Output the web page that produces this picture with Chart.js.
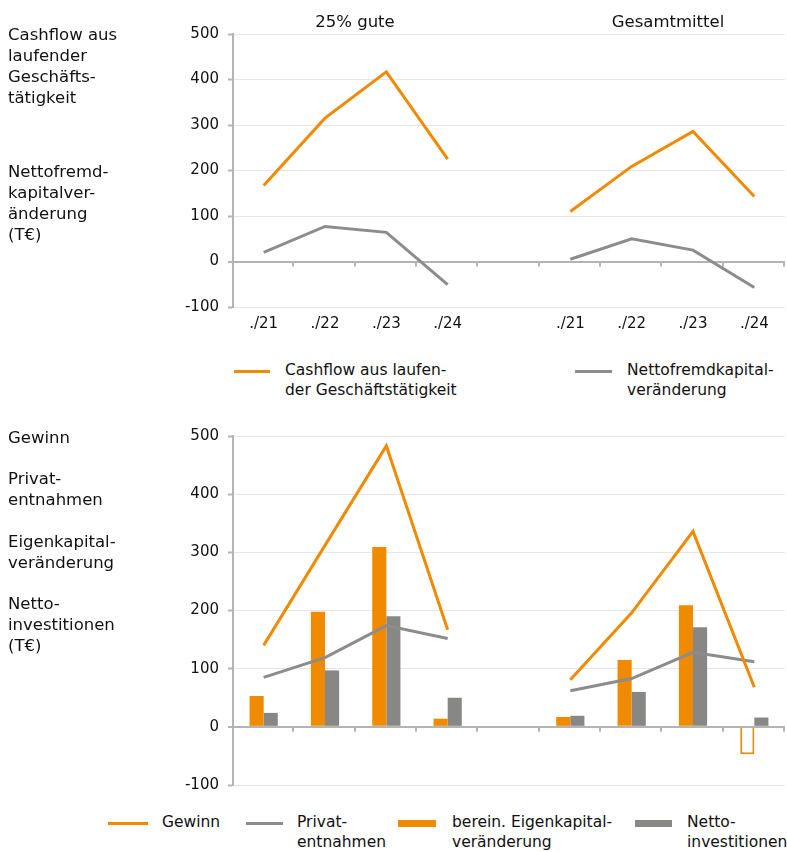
<!DOCTYPE html>
<html lang="de">
<head>
<meta charset="utf-8">
<title>Cashflow, Gewinn und Investitionen</title>
<script src="https://cdn.jsdelivr.net/npm/chart.js@4.4.1/dist/chart.umd.min.js"></script>
<style>
  body { margin: 0; background: #fff; font-family: "DejaVu Sans", Verdana, sans-serif; color: #111; }
  #page { position: relative; width: 787px; height: 852px; overflow: hidden; }
  canvas { position: absolute; left: 0; }
  .side { position: absolute; left: 8px; font-size: 16.5px; line-height: 21px; white-space: nowrap; }
  .panel-title { position: absolute; top: 11px; font-size: 16.5px; line-height: 21px; transform: translateX(-50%); white-space: nowrap; }
  .key { position: absolute; font-size: 15.5px; line-height: 19.5px; }
  .key .swatch { position: absolute; left: 0; }
  .key .line { top: 8.5px; height: 3px; }
  .key .box { top: 6.5px; height: 7px; }
  .key .txt { position: absolute; top: 0; white-space: nowrap; }
</style>
</head>
<body>
<div id="page">
  <canvas id="chartCashflow" width="787" height="341" style="top:0; width:787px; height:341px;"></canvas>
  <canvas id="chartGewinn" width="787" height="403" style="top:400px; width:787px; height:403px;"></canvas>

  <div class="panel-title" style="left:355px;">25% gute</div>
  <div class="panel-title" style="left:668px;">Gesamtmittel</div>

  <div class="side" style="top:24px;">Cashflow aus<br>laufender<br>Geschäfts-<br>tätigkeit</div>
  <div class="side" style="top:161px;">Nettofremd-<br>kapitalver-<br>änderung<br>(T€)</div>

  <div class="side" style="top:427px;">Gewinn</div>
  <div class="side" style="top:468px;">Privat-<br>entnahmen</div>
  <div class="side" style="top:531px;">Eigenkapital-<br>veränderung</div>
  <div class="side" style="top:593px;">Netto-<br>investitionen<br>(T€)</div>

  <div class="key" style="left:234px; top:361px;">
    <span class="swatch line" style="width:36px; background:#f08a00;"></span>
    <span class="txt" style="left:51px;">Cashflow aus laufen-<br>der Geschäftstätigkeit</span>
  </div>
  <div class="key" style="left:575px; top:361px;">
    <span class="swatch line" style="width:37px; background:#8c8c8c;"></span>
    <span class="txt" style="left:52px;">Nettofremdkapital-<br>veränderung</span>
  </div>

  <div class="key" style="left:108px; top:813px;">
    <span class="swatch line" style="width:40px; background:#f08a00;"></span>
    <span class="txt" style="left:54px;">Gewinn</span>
  </div>
  <div class="key" style="left:246px; top:813px;">
    <span class="swatch line" style="width:37px; background:#8c8c8c;"></span>
    <span class="txt" style="left:51px;">Privat-<br>entnahmen</span>
  </div>
  <div class="key" style="left:398px; top:813px;">
    <span class="swatch box" style="width:38px; background:#f08a00;"></span>
    <span class="txt" style="left:54px;">berein. Eigenkapital-<br>veränderung</span>
  </div>
  <div class="key" style="left:635px; top:813px;">
    <span class="swatch box" style="width:37px; background:#878785;"></span>
    <span class="txt" style="left:52px;">Netto-<br>investitionen</span>
  </div>
</div>

<script>
// categories: two groups of years, separated by an empty slot
const yearLabels = ["./21", "./22", "./23", "./24"];

// top panel (T€)
const cashflowGute = [167, 315, 417, 225];
const cashflowGesamt = [110, 209, 286, 143];
const fremdkapitalGute = [20, 77, 64, -51];
const fremdkapitalGesamt = [5, 50, 25, -57];

// bottom panel (T€)
const gewinnGute = [140, 312, 483, 167];
const gewinnGesamt = [81, 196, 336, 68];
const privatGute = [85, 119, 174, 152];
const privatGesamt = [62, 83, 128, 112];
const eigenkapitalGute = [53, 198, 309, 14];
const eigenkapitalGesamt = [17, 115, 209, -47];
const nettoinvestGute = [24, 97, 190, 50];
const nettoinvestGesamt = [19, 60, 171, 16];

const yMin = -100;
const yMax = 500;
const yStep = 100;

const ORANGE = "#f08a00";
const GRAY_LINE = "#8c8c8c";
const GRAY_BAR = "#878785";
const GRID = "#e6e6e6";
const AXIS = "#b4b4b4";
const TEXT = "#111111";
const FONT = "'DejaVu Sans', Verdana, sans-serif";

const joinGroups = (a, b) => [...a, null, ...b];
const xLabels = [...yearLabels, "", ...yearLabels];

// little tick marks hanging below the zero line, one per category boundary
const zeroLineTicks = {
  id: "zeroLineTicks",
  beforeDatasetsDraw (chart) {
    const { ctx, chartArea, scales } = chart;
    const y0 = scales.y.getPixelForValue(0);
    const n = chart.data.labels.length;
    const step = (chartArea.right - chartArea.left) / n;
    ctx.save();
    ctx.strokeStyle = AXIS;
    ctx.lineWidth = 2;
    for (let i = 1; i <= n; i++) {
      const x = Math.round(chartArea.left + i * step) - 1;
      ctx.beginPath();
      ctx.moveTo(x, y0);
      ctx.lineTo(x, y0 + 5);
      ctx.stroke();
    }
    ctx.restore();
  }
};

function lineSet (label, data, color) {
  return {
    type: "line",
    label,
    data,
    borderColor: color,
    backgroundColor: color,
    borderWidth: 3,
    pointRadius: 0,
    tension: 0,
    spanGaps: false,
    order: 0
  };
}

function makeOptions (xHeight, showLabels, padTop) {
  return {
    responsive: false,
    animation: false,
    layout: { padding: { left: 0, right: 2, top: padTop, bottom: 0 } },
    plugins: { legend: { display: false }, tooltip: { enabled: false } },
    scales: {
      x: {
        offset: true,
        grid: { display: false, drawTicks: false },
        border: { display: false },
        ticks: {
          display: showLabels,
          color: TEXT,
          font: { family: FONT, size: 15 },
          padding: 8,
          maxRotation: 0,
          autoSkip: false
        },
        afterFit (scale) { scale.height = xHeight; }
      },
      y: {
        min: yMin,
        max: yMax,
        ticks: {
          stepSize: yStep,
          color: TEXT,
          font: { family: FONT, size: 15 },
          padding: 9
        },
        grid: {
          color: (c) => (c.tick && c.tick.value === 0 ? AXIS : GRID),
          lineWidth: (c) => (c.tick && c.tick.value === 0 ? 2 : 1),
          tickColor: AXIS,
          tickLength: 5,
          tickWidth: 2
        },
        border: { display: true, color: AXIS, width: 2 },
        afterFit (scale) { scale.width = 233; }
      }
    }
  };
}

new Chart(document.getElementById("chartCashflow"), {
  type: "line",
  data: {
    labels: xLabels,
    datasets: [
      lineSet("Cashflow aus laufender Geschäftstätigkeit", joinGroups(cashflowGute, cashflowGesamt), ORANGE),
      lineSet("Nettofremdkapitalveränderung", joinGroups(fremdkapitalGute, fremdkapitalGesamt), GRAY_LINE)
    ]
  },
  options: makeOptions(34, true, 34),
  plugins: [zeroLineTicks]
});

const eigenkapital = joinGroups(eigenkapitalGute, eigenkapitalGesamt);

new Chart(document.getElementById("chartGewinn"), {
  type: "bar",
  data: {
    labels: xLabels,
    datasets: [
      lineSet("Gewinn", joinGroups(gewinnGute, gewinnGesamt), ORANGE),
      lineSet("Privatentnahmen", joinGroups(privatGute, privatGesamt), GRAY_LINE),
      {
        label: "berein. Eigenkapitalveränderung",
        data: eigenkapital,
        // negative values are drawn as an outlined bar
        backgroundColor: eigenkapital.map((v) => (v < 0 ? "#ffffff" : ORANGE)),
        borderColor: ORANGE,
        borderWidth: eigenkapital.map((v) => (v < 0 ? 2 : 0)),
        categoryPercentage: 0.46,
        barPercentage: 1,
        order: 1
      },
      {
        label: "Nettoinvestitionen",
        data: joinGroups(nettoinvestGute, nettoinvestGesamt),
        backgroundColor: GRAY_BAR,
        borderWidth: 0,
        categoryPercentage: 0.46,
        barPercentage: 1,
        order: 1
      }
    ]
  },
  options: makeOptions(13, false, 36),
  plugins: [zeroLineTicks]
});
</script>
</body>
</html>
